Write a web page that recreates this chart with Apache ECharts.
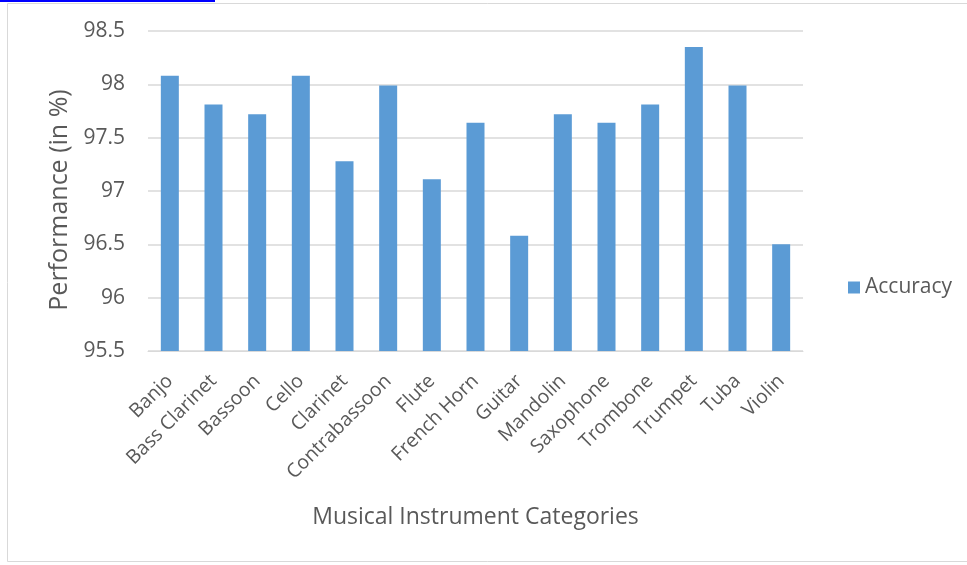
<!DOCTYPE html>
<html>
<head>
<meta charset="utf-8">
<script src="https://cdn.jsdelivr.net/npm/echarts@6/dist/echarts.min.js"></script>
<style>
html,body{margin:0;padding:0;background:#fff;}
#c{width:967px;height:565px;}
</style>
</head>
<body>
<div id="c"></div>
<script>
const categories = ["Banjo","Bass Clarinet","Bassoon","Cello","Clarinet","Contrabassoon","Flute","French Horn","Guitar","Mandolin","Saxophone","Trombone","Trumpet","Tuba","Violin"];
const accuracy = [98.08,97.81,97.72,98.08,97.28,97.99,97.11,97.64,96.58,97.72,97.64,97.81,98.35,97.99,96.50];
const seriesName = "Accuracy";
const yAxisTitle = "Performance (in %)";
const xAxisTitle = "Musical Instrument Categories";

const FONT = "Open Sans";
const TXT = "#595959";
const chart = echarts.init(document.getElementById('c'), null, {renderer:'canvas'});
chart.setOption({
  animation:false,
  backgroundColor:'#fff',
  graphic:[
    {type:'rect', shape:{x:7.5,y:3.5,width:990,height:558}, style:{fill:'none',stroke:'#d9d9d9',lineWidth:1}, z:-1},
    {type:'rect', shape:{x:0,y:0,width:215,height:2}, style:{fill:'#0000ff'}},
    {type:'text', x:60, y:200, rotation:Math.PI/2,
      style:{text:yAxisTitle, fill:TXT, font:'25px "Open Sans"', textAlign:'center', textVerticalAlign:'middle'}}
  ],
  grid:{left:148,right:164,top:31,bottom:214,containLabel:false},
  legend:{
    data:[seriesName], orient:'vertical', left:843, top:272,
    icon:'rect', itemWidth:12, itemHeight:12, itemGap:8,
    textStyle:{color:TXT, fontFamily:FONT, fontSize:21}
  },
  xAxis:{
    type:'category', data:categories,
    name:xAxisTitle, nameLocation:'middle', nameGap:155,
    nameTextStyle:{color:TXT, fontFamily:FONT, fontSize:23},
    axisLine:{show:true, lineStyle:{color:'#d9d9d9', width:1}},
    axisTick:{show:false},
    axisLabel:{rotate:45, color:TXT, fontFamily:FONT, fontSize:19.5, interval:0, margin:27}
  },
  yAxis:{
    type:'value', min:95.5, max:98.5, interval:0.5,
    axisLine:{show:false}, axisTick:{show:false},
    axisLabel:{color:TXT, fontFamily:FONT, fontSize:21, margin:23},
    splitLine:{lineStyle:{color:'#d9d9d9', width:1.5}}
  },
  series:[{
    name:seriesName, type:'bar', data:accuracy, barWidth:18,
    itemStyle:{color:'#5b9bd5'}
  }]
});
</script>
</body>
</html>
